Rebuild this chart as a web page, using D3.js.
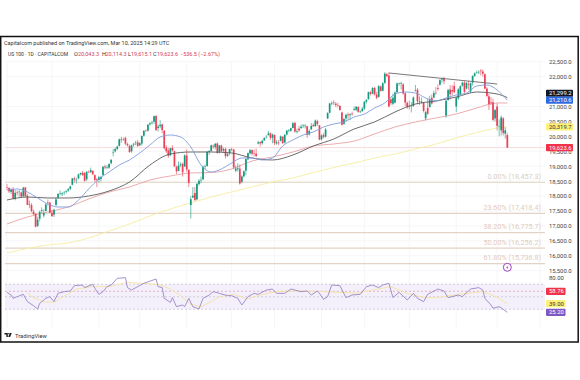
<!DOCTYPE html>
<html>
<head>
<meta charset="utf-8">
<script src="https://cdn.jsdelivr.net/npm/d3@7"></script>
<style>
  body { margin: 0; background: #fff; }
  text { font-family: Roboto, "Noto Sans", sans-serif; }
  .domain { display: none; }
</style>
</head>
<body>
<script>
// daily candles, Apr 2024 to Mar 10 2025, one row per month (weekdays only)
const opens = [
  18300,18270,18140,18230,17900,18120,18130,18120,18000,18290,18010,17730,17700,17480,17400,17000,17240,17500,17350,17500,17790,17780,
  17440,17380,17700,17950,18090,18060,18100,18140,18180,18240,18380,18590,18540,18590,18730,18780,18770,18560,18810,18800,18840,18700,18560,
  18540,18570,18700,18990,18960,18950,19100,19450,19500,19580,19680,19900,19910,19950,19740,19680,19500,19720,19790,19800,
  19700,19760,20020,20190,20190,20400,20440,20490,20680,20280,20340,20400,20190,19620,19530,19370,19610,19500,18980,18840,19030,19080,18990,
  19360,18880,17700,17950,18100,17890,18400,18530,18560,18990,19010,19480,19510,19680,19640,19760,19480,19690,19530,19580,19350,19440,
  19580,19560,18850,18900,18920,18480,18660,18850,19230,19430,19540,19440,19420,19760,19810,19770,19870,19980,20040,20100,19950,
  20050,19760,19790,19850,19990,19790,20060,20180,20190,20280,20450,20150,20260,20280,20340,20340,20340,20060,20230,20380,20340,20510,20370,
  19900,20040,19990,20600,20790,21100,21130,21090,21040,21020,20800,20420,20600,20730,20710,20760,20880,20890,20980,20820,20840,
  20930,21160,21250,21480,21430,21620,21400,21320,21670,21530,21790,22080,22040,21240,21090,21130,21480,21770,21760,21740,21440,21120,
  21000,20990,21020,21530,21560,21170,21180,21120,20600,20950,20980,21290,21300,21460,21620,21730,21900,21950,20700,21220,21570,21550,21690,
  21000,21280,21400,21700,21800,21600,21750,21500,21800,22020,22120,22150,22200,22170,22080,21600,21340,21150,21140,20600,
  21000,20340,20200,20600,20090,20043.3
];
const highs = [
  18400,18300,18260,18300,18200,18190,18200,18150,18310,18300,18080,17850,17760,17550,17430,17310,17510,17620,17560,17760,17880,17800,
  17530,17580,17950,18090,18190,18130,18170,18200,18270,18350,18610,18650,18610,18750,18790,18840,18800,18840,18860,18950,18870,18730,18600,
  18670,18680,19000,19050,19040,19100,19240,19580,19620,19690,19920,19980,19960,19990,19790,19720,19720,19780,19850,19880,
  19800,20030,20200,20230,20400,20470,20520,20690,20720,20400,20540,20430,20200,19700,19610,19620,19700,19520,19020,19160,19130,19120,19400,
  19560,18900,18000,18300,18300,18430,18570,18650,19020,19060,19500,19540,19720,19730,19780,19800,19700,19720,19620,19620,19460,19580,
  19610,19570,19030,19100,19060,18700,18860,19270,19460,19580,19560,19560,19590,19850,19830,19890,19970,20040,20180,20130,20090,
  20060,19880,19880,20030,20000,20080,20220,20240,20290,20480,20490,20260,20350,20400,20410,20410,20350,20230,20450,20440,20560,20560,20380,
  20070,20110,20280,20810,21120,21170,21210,21150,21120,21040,20830,20620,20760,20800,20780,20830,21000,21010,21010,20870,20980,
  21180,21250,21500,21520,21650,21660,21490,21720,21700,21810,22150,22120,22140,21310,21430,21510,21800,21800,21830,21780,21490,21170,
  21200,21150,21340,21720,21620,21340,21300,21150,20850,21260,21360,21400,21530,21650,21740,21920,21970,21990,21220,21600,21720,21710,21830,
  21320,21620,21710,21830,21860,21830,21860,21800,22050,22140,22200,22210,22250,22240,22110,21650,21420,21320,21260,20920,
  21100,20570,20700,20650,20300,20114.3
];
const lows = [
  18200,18100,18060,17880,17860,18020,17980,17930,17960,17960,17690,17600,17460,17370,16950,16960,17150,17420,17280,17480,17680,17430,
  17300,17300,17670,17900,18030,18000,18040,18090,18140,18200,18360,18450,18420,18560,18690,18670,18490,18510,18770,18770,18700,18480,18300,
  18450,18490,18690,18890,18900,18910,19060,19330,19460,19540,19660,19790,19850,19700,19660,19450,19450,19650,19700,19640,
  19680,19690,19990,20150,20160,20360,20400,20420,20180,20160,20270,20100,19560,19440,19280,19330,19490,18970,18740,18830,18970,18650,18970,
  18810,18300,17250,17930,17830,17860,18350,18430,18530,18900,18980,19380,19490,19590,19560,19420,19430,19470,19450,19260,19310,19360,
  19500,18900,18800,18820,18380,18430,18620,18700,19210,19390,19350,19330,19300,19730,19660,19720,19840,19930,20030,19880,19770,
  19710,19720,19700,19830,19740,19760,20030,20130,20150,20270,20120,20090,20150,20240,20280,20260,19950,20030,20220,20320,20320,20350,19870,
  19860,19930,19960,20580,20770,21040,21050,20980,20970,20860,20360,20380,20490,20560,20540,20690,20860,20840,20790,20780,20830,
  20890,21100,21220,21370,21410,21370,21240,21300,21500,21500,21760,21980,20970,21040,21040,21100,21450,21700,21570,21400,21010,20920,
  20900,20800,20990,21500,21070,21050,21090,20800,20540,20720,20960,21060,21280,21390,21530,21700,21790,21740,20620,21190,21230,21370,21440,
  20810,21220,21380,21660,21450,21580,21560,21440,21700,22000,22100,22080,22040,22000,21570,21310,20880,21050,20510,20490,
  20200,20000,20030,20030,19920,19615.1
];
const closes = [
  18283,18159,18210,17930,18108,18109,18147,17984,18280,18003,17707,17707,17494,17394,16976,17210,17471,17527,17430,17718,17783,17441,
  17330,17540,17890,18073,18090,18090,18114,18161,18229,18322,18593,18547,18546,18726,18770,18705,18509,18809,18809,18870,18730,18538,18536,
  18631,18637,18984,18957,18970,19074,19213,19465,19576,19660,19904,19908,19908,19752,19700,19473,19701,19751,19790,19682,
  19772,20012,20186,20186,20392,20440,20460,20675,20211,20331,20386,20212,19602,19500,19347,19600,19527,18997,18830,19023,19059,18796,19362,
  18890,18440,17895,18013,17866,18413,18513,18544,18986,19000,19478,19508,19700,19660,19751,19448,19697,19500,19576,19334,19400,19575,
  19575,18959,18920,18930,18421,18657,18830,19239,19438,19535,19419,19423,19340,19800,19764,19852,19944,19985,20100,19950,20060,
  19772,19800,19780,20000,19776,20050,20190,20200,20272,20440,20160,20173,20200,20324,20360,20360,20050,20180,20350,20340,20530,20410,19890,
  20030,19980,20230,20780,21100,21120,21110,21050,21030,20880,20390,20580,20720,20700,20740,20740,20910,20990,20820,20830,20930,
  21160,21220,21480,21420,21620,21400,21290,21680,21520,21780,22100,22020,21000,21110,21290,21470,21770,21770,21780,21430,21130,20980,
  20980,21000,21300,21550,21170,21180,21180,20850,20810,20760,21240,21100,21450,21450,21590,21880,21940,21850,21190,21550,21410,21500,21480,
  21300,21570,21680,21800,21490,21790,21730,21780,22020,22110,22140,22160,22180,22100,21600,21350,21080,21130,20550,20880,
  20350,20350,20630,20110,20200,19623.6
];

// moving averages at the bars in maBars / fastBars
const maBars = [0,10,20,30,40,50,60,70,80,90,100,110,120,130,140,150,160,170,180,190,200,210,220,230,240,245];
const ma200 = [16093,16244,16361,16428,16596,16830,17065,17332,17567,17768,17969,18136,18304,18471,18605,18789,18957,19107,19275,19409,19576,19744,19945,20129,20280,20319.7];
const ma100 = [17065,17299,17466,17634,17902,18136,18304,18538,18672,18773,18789,18907,19174,19308,19476,19677,19744,19844,20079,20313,20481,20615,20748,20949,21117,21117];
const ma50 = [17868,17969,17935,17935,18002,18170,18471,19040,19409,19476,19476,19442,19275,19208,19375,19677,19911,20246,20481,20815,21083,21184,21318,21485,21418,21299.2];
const fastBars = [0,5,10,15,20,25,30,35,40,45,50,55,60,65,70,75,80,85,90,95,100,105,110,115,120,125,130,135,140,145,150,155,160,165,170,175,180,185,190,195,200,205,210,215,220,225,230,235,240,245];
const ma20 = [18203,18237,18136,17935,17734,17634,17634,17868,18237,18572,18806,19040,19208,19442,19710,19978,20045,19978,19643,19040,18806,18907,19107,19275,19275,19208,19275,19677,19878,20045,20146,20313,20414,20481,20648,20748,20949,21117,21418,21485,21452,21284,21184,21284,21385,21452,21686,21720,21552,21210.6];

// descending trendline: bars and prices of its two ends
const trendBars = [187,240];
const trendPrices = [22122,21753];

const fibLabels = ["0.00%","23.60%","38.20%","50.00%","61.80%"];
const fibValues = [18457.3,17418.4,16775.7,16256.2,15736.8];

const priceTicks = [22500,22000,21000,20500,20000,19500,19000,18500,18000,17500,17000,16500,16000,15500];
const timeLabels = ["Apr","May","Jun","Jul","Aug","Sep","Oct","Nov","Dec","2025","Feb","Mar","Apr"];
const timeBars = [0,22,45,65,88,110,131,154,175,197,220,240,261];

const rsiBars = [0,2,3,5,8,10,13,15,16,19,21,23,25,28,31,33,37,38,42,43,45,47,49,51,54,58,59,61,64,67,73,74,76,77,80,81,83,86,87,89,91,94,96,99,101,104,108,110,113,115,118,121,123,127,130,132,136,139,141,144,147,149,152,153,155,157,159,163,166,169,173,176,179,182,184,187,189,192,196,199,201,204,206,211,214,216,221,223,227,231,233,234,237,238,241,243,245];
const rsiValues = [57.1,52.8,47.5,50.2,53.9,42.2,35.8,30.5,39.5,47.5,50.2,42.2,55.5,58.2,59.2,67.8,68.8,64.6,69.9,63.5,53.9,58.2,66.2,68.8,79.5,80.5,64.6,60.8,66.2,71.5,78.4,66.2,64.6,47.5,41.1,48.6,34.2,36.9,34.2,47.5,34.2,30.5,47.5,52.8,58.2,55.5,51.8,51.8,47.5,36.9,50.2,55.5,53.9,60.8,62.4,55.5,55.5,62.4,60.8,58.2,59.2,52.8,59.2,55.5,45.9,50.2,68.8,67.8,48.6,52.8,53.9,66.2,68.8,64.6,68.8,71.5,48.6,57.1,44.9,55.5,47.5,42.2,53.9,62.4,59.2,48.6,52.8,50.2,62.4,64.6,60.8,47.5,36.9,31.6,34.2,29.9,25.2];
const rsiMaBars = [10,13,18,23,29,34,42,50,59,65,74,80,85,90,95,100,104,111,118,124,132,139,147,155,163,171,179,188,196,204,211,217,225,233,240,245];
const rsiMaValues = [55.5,48.6,42.2,41.1,52.8,62.4,66.2,66.2,73.1,71.5,69.9,62.4,51.8,37.9,34.2,42.2,50.2,53.9,46.5,52.8,58.2,59.2,59.2,58.2,57.1,55.5,60.8,66.2,55.5,48.6,48.6,51.8,55.5,58.2,49.1,39];
const rsiLevels = [70,50,30];
const rsiLastHigh = 58.76;

const width = 580;
const height = 380;

const svg = d3.select("body").append("svg")
    .attr("width", width)
    .attr("height", height);

const x = d3.scaleLinear().domain([0, 261]).range([7, 540]);
const y = d3.scaleLinear().domain([15500, 22500]).range([270.7, 61.7]);
const yRsi = d3.scaleLinear().domain([25.2, 80]).range([312.3, 278]);

const plotLeft = 5;
const plotRight = 545;
const axisX = 546;

svg.append("clipPath").attr("id", "plot")
    .append("rect").attr("x", 4).attr("y", 36).attr("width", 560).attr("height", 306);

// grid
svg.append("g").selectAll("line")
    .data(timeBars)
    .enter()
    .append("line")
    .attr("x1", (d) => x(d)).attr("x2", (d) => x(d))
    .attr("y1", 62).attr("y2", 328)
    .attr("stroke", "#f6f6f8");
svg.append("g").selectAll("line")
    .data(priceTicks)
    .enter()
    .append("line")
    .attr("x1", plotLeft).attr("x2", plotRight)
    .attr("y1", (d) => y(d)).attr("y2", (d) => y(d))
    .attr("stroke", "#f6f6f8");

// fib levels
const fibs = svg.append("g").selectAll("g")
    .data(fibValues)
    .enter()
    .append("g");
fibs.append("line")
    .attr("x1", plotLeft).attr("x2", plotRight)
    .attr("y1", (d) => y(d)).attr("y2", (d) => y(d))
    .attr("stroke", (d, i) => i == 0 ? "#e6dccb" : "#e3d2c6")
    .attr("stroke-width", 1.3);
fibs.append("text")
    .attr("x", 541)
    .attr("y", (d) => y(d) - 3.5)
    .attr("text-anchor", "end")
    .attr("font-size", 7.2)
    .attr("fill", (d, i) => i == 0 ? "#d8d0c2" : "#e2cbbd")
    .text((d, i) => fibLabels[i] + " (" + d3.format(",.1f")(d) + ")");

// last close line
svg.append("line")
    .attr("x1", plotLeft).attr("x2", plotRight)
    .attr("y1", y(closes[closes.length - 1])).attr("y2", y(closes[closes.length - 1]))
    .attr("stroke", "#f8d9dc");

const line = d3.line()
    .x((d) => x(d[0]))
    .y((d) => y(d[1]))
    .curve(d3.curveMonotoneX);

function drawAverage(bars, values, color) {
    svg.append("path")
        .attr("d", line(bars.map((b, i) => [b, values[i]])))
        .attr("fill", "none")
        .attr("stroke", color)
        .attr("stroke-width", 0.9);
}
drawAverage(maBars, ma200, "#f6eda0");
drawAverage(maBars, ma100, "#e9a3a6");

// candles
const candles = svg.append("g").selectAll("g")
    .data(closes)
    .enter()
    .append("g")
    .attr("fill", (d, i) => d >= opens[i] ? "#14997f" : "#ea4158")
    .attr("stroke", (d, i) => d >= opens[i] ? "#14997f" : "#ea4158");
candles.append("line")
    .attr("x1", (d, i) => x(i)).attr("x2", (d, i) => x(i))
    .attr("y1", (d, i) => y(highs[i])).attr("y2", (d, i) => y(lows[i]))
    .attr("stroke-width", 0.6);
candles.append("rect")
    .attr("x", (d, i) => x(i) - 0.85)
    .attr("width", 1.7)
    .attr("y", (d, i) => y(Math.max(opens[i], d)))
    .attr("height", (d, i) => Math.max(0.5, Math.abs(y(opens[i]) - y(d))))
    .attr("stroke", "none");

drawAverage(maBars, ma50, "#5a5a5a");
drawAverage(fastBars, ma20, "#7f9cdb");
drawAverage(trendBars, trendPrices, "#6a6a6a");

// RSI pane
svg.append("rect")
    .attr("x", plotLeft)
    .attr("width", plotRight - plotLeft)
    .attr("y", yRsi(70))
    .attr("height", yRsi(30) - yRsi(70))
    .attr("fill", "#f3f0fb");
svg.append("g").selectAll("line")
    .data(rsiLevels)
    .enter()
    .append("line")
    .attr("x1", plotLeft).attr("x2", plotRight)
    .attr("y1", (d) => yRsi(d)).attr("y2", (d) => yRsi(d))
    .attr("stroke", "#c6c0d6")
    .attr("stroke-width", 0.8)
    .attr("stroke-dasharray", "2 2");
svg.append("line")
    .attr("x1", plotLeft).attr("x2", plotRight)
    .attr("y1", yRsi(rsiLastHigh)).attr("y2", yRsi(rsiLastHigh))
    .attr("stroke", "#e0a3b8")
    .attr("stroke-width", 0.8)
    .attr("stroke-dasharray", "2 2");

const rsiLine = d3.line()
    .x((d) => x(d[0]))
    .y((d) => yRsi(d[1]));
svg.append("path")
    .attr("d", rsiLine(rsiMaBars.map((b, i) => [b, rsiMaValues[i]])))
    .attr("fill", "none")
    .attr("stroke", "#f5e3ad")
    .attr("stroke-width", 1);
svg.append("path")
    .attr("d", rsiLine(rsiBars.map((b, i) => [b, rsiValues[i]])))
    .attr("fill", "none")
    .attr("stroke", "#9a86c6")
    .attr("stroke-width", 0.9);

// axes
const priceAxis = svg.append("g")
    .attr("transform", "translate(" + axisX + ",0)")
    .call(d3.axisRight(y).tickValues(priceTicks).tickSize(0).tickPadding(3)
        .tickFormat(d3.format(",.1f")));
priceAxis.selectAll("text").attr("font-size", 5.9).attr("fill", "#444");

const rsiAxis = svg.append("g")
    .attr("transform", "translate(" + axisX + ",0)")
    .call(d3.axisRight(yRsi).tickValues([80]).tickSize(0).tickPadding(3)
        .tickFormat(d3.format(".2f")));
rsiAxis.selectAll("text").attr("font-size", 5.9).attr("fill", "#444");

const timeAxis = svg.append("g")
    .attr("transform", "translate(0,318.5)")
    .attr("clip-path", "url(#plot)")
    .call(d3.axisBottom(x).tickValues(timeBars).tickSize(0).tickPadding(2)
        .tickFormat((d, i) => timeLabels[i]));
timeAxis.selectAll("text")
    .attr("font-size", 5.9)
    .attr("fill", "#555")
    .attr("font-weight", (d, i) => timeLabels[i] == "2025" ? 700 : 400);

// value tags on the right
const tagData = [
    { label: "21,299.2", py: y(ma50[ma50.length - 1]) - 4.3, bg: "#131722", fg: "#fff", w: 27 },
    { label: "21,210.6", py: y(ma20[ma20.length - 1]), bg: "#2f6be0", fg: "#fff", w: 27 },
    { label: "20,319.7", py: y(ma200[ma200.length - 1]), bg: "#fff07a", fg: "#333", w: 27 },
    { label: "19,623.6", py: y(closes[closes.length - 1]), bg: "#f0334a", fg: "#fff", w: 27 },
    { label: "58.76", py: yRsi(rsiLastHigh), bg: "#f0334a", fg: "#fff", w: 19.5 },
    { label: "39.00", py: yRsi(rsiMaValues[rsiMaValues.length - 1]), bg: "#fff07a", fg: "#333", w: 19.5 },
    { label: "25.20", py: yRsi(rsiValues[rsiValues.length - 1]), bg: "#7e57c2", fg: "#fff", w: 19.5 }
];
const tags = svg.append("g").selectAll("g")
    .data(tagData)
    .enter()
    .append("g");
tags.append("rect")
    .attr("x", axisX)
    .attr("y", (d) => d.py - 3.6)
    .attr("width", (d) => d.w)
    .attr("height", 7.2)
    .attr("rx", 0.8)
    .attr("fill", (d) => d.bg);
tags.append("text")
    .attr("x", axisX + 3)
    .attr("y", (d) => d.py + 2.1)
    .attr("font-size", 5.9)
    .attr("fill", (d) => d.fg)
    .text((d) => d.label);

// lightning marker under the last bar
const marker = svg.append("g")
    .attr("transform", "translate(" + x(closes.length - 1) + ",267.3)");
marker.append("circle").attr("r", 4).attr("fill", "#fff").attr("stroke", "#9c3fc0").attr("stroke-width", 1);
marker.append("path").attr("d", "M0.7 -2.3L-1.2 0.4H0L-0.7 2.3L1.2 -0.4H0Z").attr("fill", "#9c3fc0");

// header
svg.append("text")
    .attr("x", 4).attr("y", 44.5)
    .attr("font-size", 5.5).attr("fill", "#333")
    .text("Capitalcom published on TradingView.com, Mar 10, 2025 14:29 UTC");

const redTxt = "#d4405c";
const headerParts = [
    ["US 100 · 1D · CAPITALCOM", 8, "#333", 5],
    ["O", 74, "#333", 5.5], ["20,043.3", 78, redTxt, 5.5],
    ["H", 102, "#333", 5.5], ["20,114.3", 105.5, redTxt, 5.5],
    ["L", 128, "#333", 5.5], ["19,615.1", 131, redTxt, 5.5],
    ["C", 153, "#333", 5.5], ["19,623.6", 157, redTxt, 5.5],
    ["−536.5 (−2.67%)", 180, redTxt, 5.5]
];
svg.append("g").selectAll("text")
    .data(headerParts)
    .enter()
    .append("text")
    .attr("x", (d) => d[1]).attr("y", 56)
    .attr("font-size", (d) => d[3])
    .attr("fill", (d) => d[2])
    .text((d) => d[0]);

// TradingView logo
const logo = svg.append("g").attr("transform", "translate(4.5,333) scale(0.72)").attr("fill", "#1a1a1a");
logo.append("path").attr("d", "M0 0H4.6V5.5H2.6V2H0Z");
logo.append("circle").attr("cx", 5.9).attr("cy", 1).attr("r", 0.9);
logo.append("path").attr("d", "M7.3 0H10L7.8 5.5H5.2Z");
svg.append("text")
    .attr("x", 15).attr("y", 337.8)
    .attr("font-size", 5.8).attr("fill", "#333")
    .text("TradingView");

// outer frame
svg.append("rect")
    .attr("x", 0.7).attr("y", 36.5)
    .attr("width", 577.5).attr("height", 305.5)
    .attr("fill", "none")
    .attr("stroke", "#111")
    .attr("stroke-width", 1.5);
</script>
</body>
</html>
